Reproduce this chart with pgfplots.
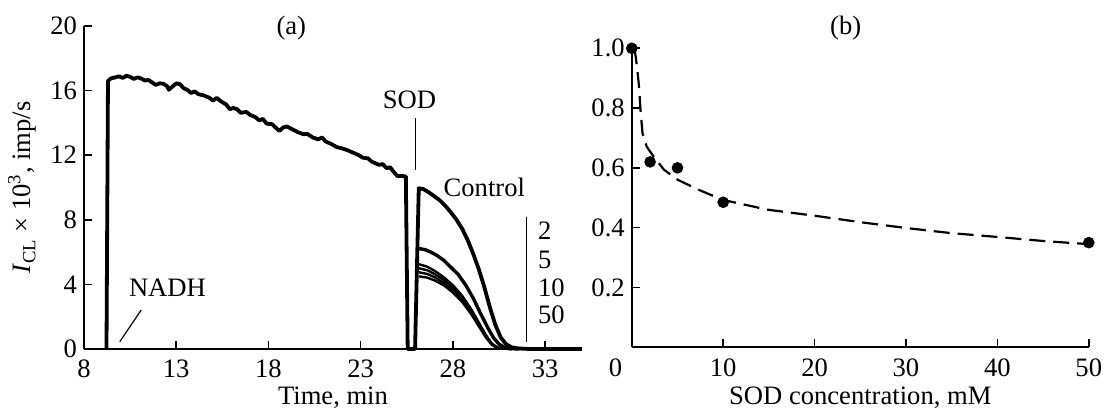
\documentclass[border=0pt]{standalone}
\usepackage{pgfplots}
\pgfplotsset{compat=1.18}
\usepackage{fontspec}
\setmainfont{Liberation Serif}
\newcommand{\fsz}{\fontsize{13.3pt}{15pt}\selectfont}

\pgfplotsset{
  panel/.style={
    scale only axis,
    axis lines=left, axis line style={-, line width=0.8pt},
    tick align=inside, major tick length=4pt,
    tick style={black, line width=0.8pt},
    ticklabel style={font=\fsz},
    xticklabel style={yshift=-2pt},
    label style={font=\fsz},
    /pgf/number format/assume math mode=true,
    clip=false,
  },
}

\begin{document}
\begin{tikzpicture}[font=\fsz]
\useasboundingbox (-42pt,-30.5pt) rectangle (515pt,174.5pt);

% (a) chemiluminescence kinetics
\begin{axis}[panel,
  width=249pt, height=161.5pt,
  xmin=8, xmax=35, ymin=0, ymax=20,
  xtick={8,13,18,23,28,33}, ytick={0,4,8,12,16,20},
  xlabel={Time, min},
  xlabel style={at={(axis description cs:0.5,0)}, anchor=base, yshift=-27.8pt},
  ylabel={\textit{I}\textsubscript{CL} × 10\textsuperscript{3}, imp/s},
]
\addplot[black, line width=1.9pt, line join=round] coordinates {
  (9.22,0) (9.3,16.6) (9.45,16.75) (9.7,16.82) (9.9,16.88) (10.1,16.78) (10.3,16.92)
  (10.5,16.85) (10.7,16.72) (10.9,16.82) (11.1,16.75) (11.3,16.62) (11.5,16.66)
  (11.7,16.5) (11.9,16.35) (12.1,16.45) (12.3,16.42) (12.5,16.28) (12.6,16.05)
  (12.8,16.25) (13.0,16.45) (13.2,16.4) (13.4,16.15) (13.6,16.05) (13.8,15.85)
  (14.0,15.95) (14.2,15.78) (14.5,15.7) (14.8,15.55) (15.0,15.38) (15.2,15.55)
  (15.4,15.35) (15.7,15.15) (15.9,14.85) (16.1,14.92) (16.3,14.85) (16.5,14.62)
  (16.8,14.68) (17.0,14.5) (17.3,14.35) (17.5,14.15) (17.7,14.25) (17.9,13.95)
  (18.2,13.92) (18.4,13.7) (18.6,13.5) (18.8,13.72) (19.0,13.78) (19.3,13.6)
  (19.6,13.42) (19.9,13.3) (20.1,13.32) (20.4,13.1) (20.7,12.98) (20.9,13.1)
  (21.1,12.85) (21.4,12.7) (21.7,12.5) (22.0,12.42) (22.3,12.3) (22.6,12.15)
  (22.9,12.0) (23.1,11.85) (23.4,11.8) (23.6,11.6) (23.8,11.5) (24.0,11.4)
  (24.2,11.45) (24.4,11.2) (24.6,11.25) (24.8,10.95) (25.0,10.7) (25.2,10.72)
  (25.45,10.68) (25.55,0) (25.95,0)
  (26.15,9.95) (26.4,9.9) (26.7,9.7) (27.0,9.45) (27.3,9.2) (27.6,8.85) (27.9,8.45)
  (28.2,8.0) (28.5,7.45) (28.8,6.75) (29.1,5.9) (29.4,4.95) (29.7,3.85) (30.0,2.6)
  (30.3,1.5) (30.6,0.7) (30.9,0.28) (31.2,0.1) (31.6,0.03) (32.2,0) (35,0)};
\addplot[black, line width=1.7pt, line join=round] coordinates {
  (26.15,6.22) (26.5,6.15) (26.8,6.0) (27.1,5.82) (27.5,5.5) (27.9,5.05) (28.3,4.6)
  (28.7,3.95) (29.1,3.15) (29.5,2.2) (29.9,1.3) (30.2,0.7) (30.5,0.3) (30.8,0.1)
  (31.2,0.02) (31.6,0)};
\addplot[black, line width=1.2pt, line join=round] coordinates {
  (26.15,5.25) (26.6,5.1) (27.0,4.85) (27.5,4.45) (28.0,3.95) (28.5,3.3) (29.0,2.45)
  (29.4,1.65) (29.8,0.85) (30.1,0.35) (30.4,0.1) (30.8,0.02) (31.2,0)};
\addplot[black, line width=1.2pt, line join=round] coordinates {
  (26.15,5.0) (26.6,4.88) (27.0,4.65) (27.5,4.28) (28.0,3.8) (28.5,3.18) (29.0,2.35)
  (29.4,1.58) (29.8,0.8) (30.1,0.32) (30.4,0.09) (30.8,0.02) (31.2,0)};
\addplot[black, line width=1.2pt, line join=round] coordinates {
  (26.15,4.75) (26.6,4.65) (27.0,4.45) (27.5,4.1) (28.0,3.65) (28.5,3.05) (29.0,2.25)
  (29.4,1.5) (29.8,0.75) (30.1,0.3) (30.4,0.08) (30.8,0.02) (31.2,0)};
\addplot[black, line width=1.2pt, line join=round] coordinates {
  (26.15,4.5) (26.6,4.42) (27.0,4.25) (27.5,3.95) (28.0,3.5) (28.5,2.92) (29.0,2.15)
  (29.4,1.42) (29.8,0.7) (30.1,0.27) (30.4,0.07) (30.8,0.02) (31.2,0)};

\node at (axis cs:19.24,19.86) {(a)};
\node[anchor=base west, inner sep=0] at (axis cs:24.18,14.9) {SOD};
\draw[line width=0.6pt] (axis cs:25.98,14.28) -- (axis cs:25.98,11.08);
\node[anchor=base west, inner sep=0] at (axis cs:27.48,9.43) {Control};
\node[anchor=base west, inner sep=0] at (axis cs:10.42,3.24) {NADH};
\draw[line width=0.6pt] (axis cs:11.1,2.41) -- (axis cs:9.94,0.45);
\draw[line width=0.6pt] (axis cs:31.97,8.19) -- (axis cs:31.97,0.45);
\node[anchor=base west, inner sep=0] at (axis cs:32.6,6.75) {2};
\node[anchor=base west, inner sep=0] at (axis cs:32.6,4.99) {5};
\node[anchor=base west, inner sep=0] at (axis cs:32.6,3.24) {10};
\node[anchor=base west, inner sep=0] at (axis cs:32.6,1.59) {50};
\end{axis}

% (b) relative intensity vs SOD concentration
\begin{axis}[panel,
  at={(273.9pt,0.85pt)}, anchor=south west,
  width=228.5pt, height=149.5pt,
  xmin=0, xmax=50, ymin=0, ymax=1,
  xtick={10,20,30,40,50}, ytick={0.2,0.4,0.6,0.8,1.0},
  yticklabel style={/pgf/number format/.cd, fixed, fixed zerofill, precision=1},
  xlabel={SOD concentration, mM},
  xlabel style={at={(axis description cs:0.5,0)}, anchor=base, yshift=-28.6pt},
]
\addplot[black, line width=1.1pt, dash pattern=on 8pt off 4pt, line join=round] coordinates {
  (0.3,1.0) (0.57,0.939) (0.79,0.872) (0.95,0.794) (1.17,0.716) (1.63,0.671)
  (2.38,0.638) (3.52,0.594) (5.03,0.56) (7.3,0.527) (9.95,0.493) (14.9,0.46)
  (20,0.44) (25.1,0.418) (30,0.399) (34.9,0.382) (40,0.369) (45.2,0.355) (50,0.345)};
\addplot[only marks, mark=*, mark size=2.7pt, black] coordinates {
  (0,1.0) (2,0.62) (5,0.6) (10,0.485) (50,0.35)};
\node at (axis cs:23.4,1.067) {(b)};
\node[anchor=north east, inner sep=0] at (axis cs:-1.0,-0.037) {0};
\end{axis}
\end{tikzpicture}
\end{document}
